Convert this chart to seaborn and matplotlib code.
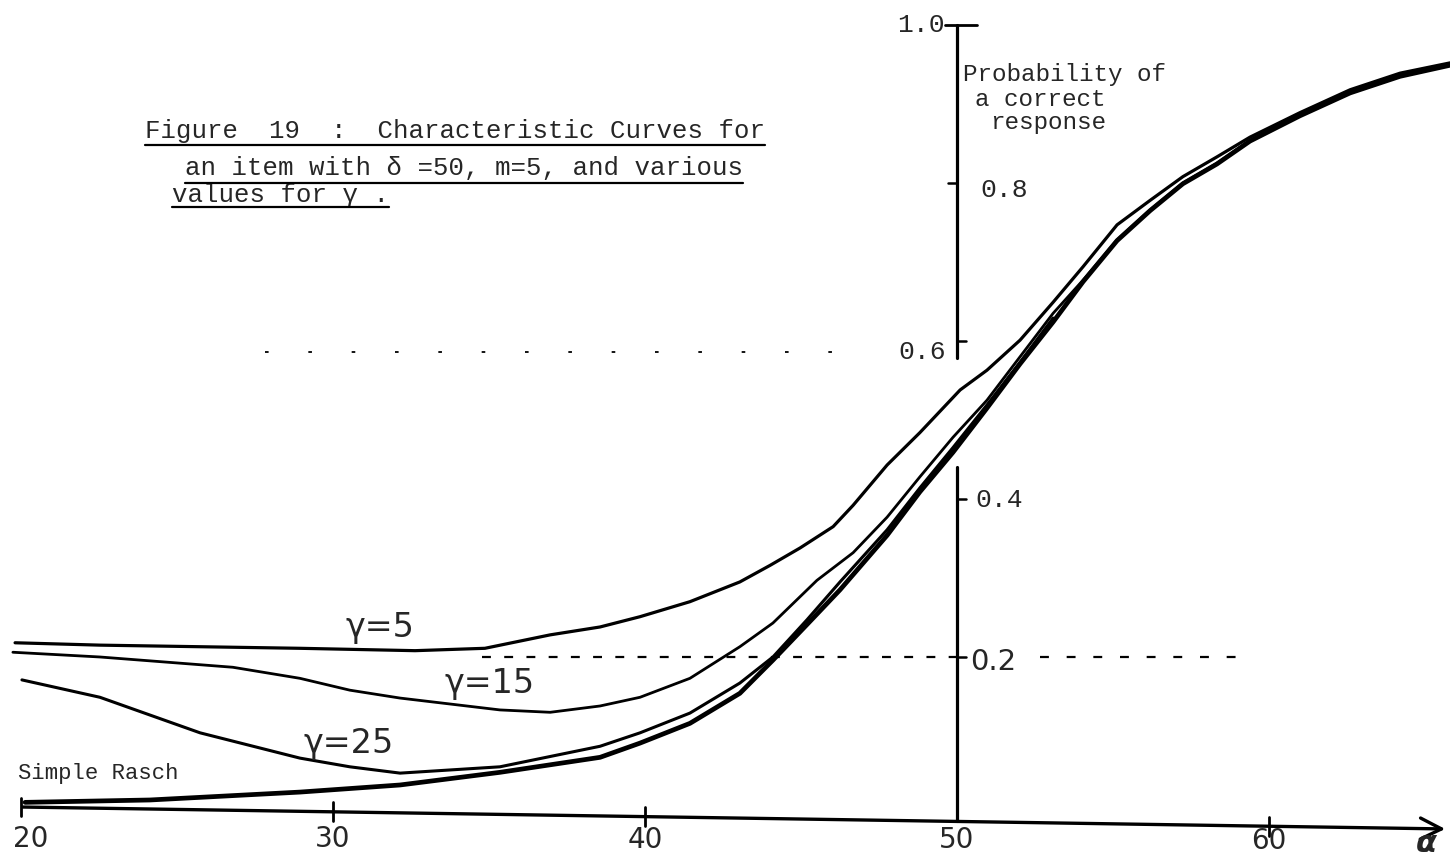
import numpy as np
import pandas as pd
import matplotlib
matplotlib.use("Agg")
import matplotlib.pyplot as plt
from matplotlib.lines import Line2D
import seaborn as sns

# ---------------- data ----------------
g5_x = [19.81, 22.53, 25.74, 28.94, 32.63, 34.87, 36.96, 38.56, 39.84, 41.44,
        43.04, 44.01, 44.97, 46.03, 46.67, 47.76, 48.81, 50.10, 50.96, 52.02,
        53.08, 54.04, 55.13, 56.19, 57.24, 58.33, 59.39, 60.99, 62.60, 64.20, 65.80]
g5_y = [0.218, 0.215, 0.213, 0.211, 0.208, 0.211, 0.228, 0.238, 0.251, 0.270,
        0.295, 0.316, 0.338, 0.365, 0.392, 0.443, 0.484, 0.538, 0.563, 0.601,
        0.649, 0.694, 0.747, 0.778, 0.808, 0.833, 0.858, 0.889, 0.918, 0.939, 0.952]

g15_x = [19.74, 22.53, 26.79, 28.94, 30.54, 32.15, 35.35, 36.96, 38.56, 39.84,
         41.44, 43.04, 44.10, 45.51, 46.67, 47.76, 48.81, 49.87, 50.96, 52.02,
         53.08, 54.04, 55.13, 56.19, 57.24, 58.33, 59.39, 60.99, 62.60, 64.20, 65.80]
g15_y = [0.206, 0.200, 0.187, 0.173, 0.158, 0.148, 0.133, 0.130, 0.138, 0.149,
         0.173, 0.213, 0.243, 0.297, 0.332, 0.377, 0.428, 0.478, 0.525, 0.580,
         0.635, 0.677, 0.728, 0.766, 0.800, 0.825, 0.854, 0.886, 0.915, 0.937, 0.951]

g25_x = [20.03, 22.53, 25.74, 28.94, 30.54, 32.15, 35.35, 38.56, 39.84, 41.44,
         43.04, 44.10, 45.19, 46.25, 47.76, 48.81, 49.87, 50.96, 52.02, 53.08]
g25_y = [0.171, 0.149, 0.104, 0.072, 0.061, 0.053, 0.061, 0.087, 0.104, 0.129,
         0.167, 0.200, 0.247, 0.295, 0.361, 0.414, 0.465, 0.519, 0.573, 0.629]

rasch_x = [20.13, 24.13, 28.94, 32.15, 35.35, 38.56, 39.84, 41.44, 43.04, 44.10,
           45.19, 46.25, 47.76, 48.81, 49.87, 50.96, 52.02, 53.08, 54.04, 55.13,
           56.19, 57.24, 58.33, 59.39, 60.99, 62.60, 64.20, 65.80]
rasch_y = [0.016, 0.019, 0.029, 0.038, 0.054, 0.073, 0.091, 0.116, 0.154, 0.196,
           0.241, 0.285, 0.354, 0.409, 0.459, 0.515, 0.571, 0.624, 0.675, 0.727,
           0.765, 0.799, 0.824, 0.853, 0.885, 0.914, 0.935, 0.949]

x_ticks = [20, 30, 40, 50, 60]
x_tick_labels = ["20", "30", "40", "50", "60"]
y_ticks = [1.0, 0.8, 0.6, 0.4, 0.2]
y_tick_labels = ["1.0", "0.8", "0.6", "0.4", "0.2"]
curve_labels = ["γ=5", "γ=15", "γ=25"]
title_lines = ["Figure  19  :  Characteristic Curves for",
               "an item with δ =50, m=5, and various",
               "values for γ ."]
ylabel_lines = ["Probability of", "a correct", "response"]

# ---------------- figure ----------------
sns.set_style("white")
plt.rcParams["font.family"] = ["DejaVu Sans"]

W, H = 1450, 856
fig = plt.figure(figsize=(W / 100, H / 100), dpi=100)
ax = fig.add_axes([0, 0, 1, 1])
XMIN, XMAX = 19.327, 65.801
YMIN, YMAX = -0.0519, 1.0316


def px2x(px):
    return XMIN + px / W * (XMAX - XMIN)


def py2y(py):
    return YMAX - py / H * (YMAX - YMIN)


frames = []
for name, xs, ys in [("g5", g5_x, g5_y), ("g15", g15_x, g15_y),
                     ("g25", g25_x, g25_y), ("rasch", rasch_x, rasch_y)]:
    frames.append(pd.DataFrame({"alpha": xs, "p": ys, "curve": name}))
df = pd.concat(frames, ignore_index=True)

widths = {"g5": 2.3, "g15": 2.0, "g25": 2.2, "rasch": 3.4}
for name in ["g5", "g15", "g25", "rasch"]:
    sns.lineplot(data=df[df.curve == name], x="alpha", y="p", color="black",
                 linewidth=widths[name], sort=False, estimator=None, ax=ax,
                 legend=False)
ax.set_xlim(XMIN, XMAX)
ax.set_ylim(YMIN, YMAX)
ax.axis("off")

# ---------------- axes drawn by hand ----------------
ax_col = "black"
y_left, y_right = py2y(807), py2y(829)
ax.annotate("", xy=(px2x(1448), y_right), xytext=(px2x(20), y_left),
            arrowprops=dict(arrowstyle="->", lw=2.4, color=ax_col,
                            mutation_scale=38))


def axis_y(x):
    return y_left + (y_right - y_left) * (x - px2x(20)) / (px2x(1448) - px2x(20))


for t in [20, 30, 40, 60]:
    ax.plot([t, t], [axis_y(t) - 0.012, axis_y(t) + 0.012], color=ax_col, lw=2)

# vertical axis in two pieces
ax.plot([50, 50], [0.578, 1.0], color=ax_col, lw=2.3)
ax.plot([50, 50], [axis_y(50), 0.44], color=ax_col, lw=2.3)
ax.plot([px2x(945), px2x(977)], [1.0, 1.0], color=ax_col, lw=2)
ax.plot([px2x(948), 50], [0.8, 0.8], color=ax_col, lw=1.8)
for v in [0.6, 0.4, 0.2]:
    ax.plot([50, px2x(966)], [v, v], color=ax_col, lw=1.8)

# dashed 0.2 reference line
ax.plot([px2x(482), 50], [0.2, 0.2], color=ax_col, lw=1.6, ls=(0, (4, 6)))
ax.plot([px2x(1040), px2x(1250)], [0.2, 0.2], color=ax_col, lw=1.6,
        ls=(0, (4, 8)))
# sparse dashes near 0.59 (faint line in the scan)
ax.plot([px2x(265), px2x(850)], [py2y(352), py2y(352)], color=ax_col, lw=1.3,
        ls=(0, (2, 22)))

# ---------------- tick labels ----------------
tick_font = ["Liberation Sans Narrow", "DejaVu Sans"]
ty = {20: 839, 30: 839, 40: 840, 50: 840, 60: 841}
for t, lab in zip(x_ticks, x_tick_labels):
    xx = t if t != 20 else px2x(31)
    ax.text(xx, py2y(ty[t]), lab, ha="center", va="center", fontsize=20,
            family=tick_font)
ax.text(px2x(1426), py2y(843), "α", ha="center", va="center", fontsize=22,
        fontweight="bold", family=["DejaVu Sans"], style="italic")

mono = ["Liberation Mono", "DejaVu Sans Mono"]
ypos = {"1.0": (945, 25, "right"), "0.8": (980, 190, "left"),
        "0.6": (946, 352, "right"), "0.4": (975, 500, "left"),
        "0.2": (970, 662, "left")}
for v, lab in zip(y_ticks, y_tick_labels):
    px, py, ha = ypos[lab]
    fam = tick_font if lab == "0.2" else mono
    ax.text(px2x(px), py2y(py), lab, ha=ha, va="center",
            fontsize=19 if lab != "0.2" else 21, family=fam)

# y axis label
for line, (px, py) in zip(ylabel_lines, [(963, 75), (975, 99), (990, 123)]):
    ax.text(px2x(px), py2y(py), line, ha="left", va="center", fontsize=17.5,
            family=mono)

# curve annotations (hand-written in the original)
for lab, (px, py) in zip(curve_labels, [(345, 628), (445, 684), (303, 744)]):
    ax.text(px2x(px), py2y(py), lab, ha="left", va="center", fontsize=24,
            family=["DejaVu Sans"])
ax.text(px2x(18), py2y(773), "Simple Rasch", ha="left", va="center",
        fontsize=16, family=mono)

# title with underlines
title_texts = []
for line, (px, py) in zip(title_lines, [(145, 131), (185, 168), (172, 195)]):
    t = ax.text(px2x(px), py2y(py), line, ha="left", va="center",
                fontsize=18.5, family=mono)
    title_texts.append(t)

fig.canvas.draw()
renderer = fig.canvas.get_renderer()
for t, uy in zip(title_texts, [145, 183, 207]):
    bb = t.get_window_extent(renderer)
    fig.add_artist(Line2D([bb.x0 / W, bb.x1 / W], [1 - uy / H, 1 - uy / H],
                          transform=fig.transFigure, color="black", lw=1.6))

fig.savefig("out.png", dpi=100, facecolor="white")
